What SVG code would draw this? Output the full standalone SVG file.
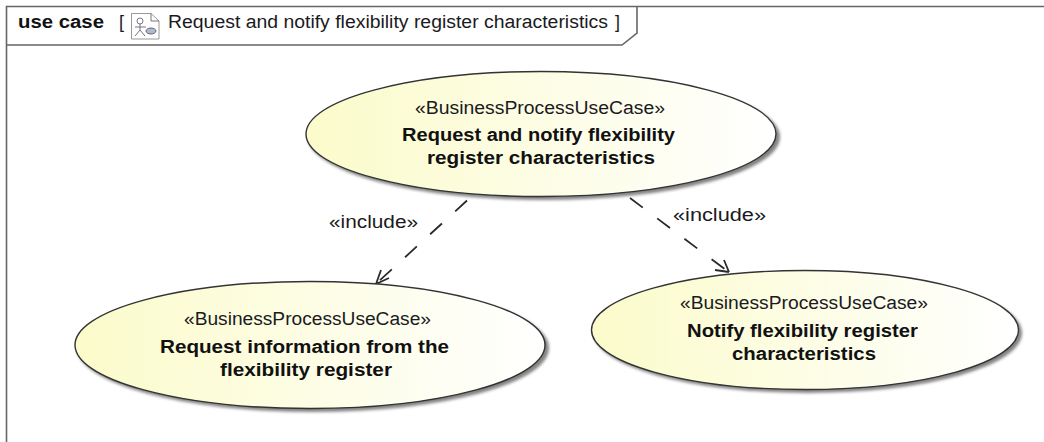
<svg xmlns="http://www.w3.org/2000/svg" width="1044" height="442" viewBox="0 0 1044 442">
<style>
text{font-family:"Liberation Sans",Arial,sans-serif;font-size:18px;fill:#1a1a22;text-anchor:middle}
.b{font-weight:bold;fill:#111}
.s{fill:#6e6e6e;opacity:.85;filter:url(#blur)}
.e{fill:url(#g);stroke:#333;stroke-width:1.4}
.c{fill:none;stroke:#2a2a2a;stroke-width:1.8}
.f{fill:none;stroke:#666;stroke-width:1.6}
.i{fill:none;stroke:#667;stroke-width:.9}
</style>
<defs>
<linearGradient id="g" x1="0" y1="0" x2="1" y2="0"><stop offset="0" stop-color="#fbfbcb"/><stop offset="1" stop-color="#fff"/></linearGradient>
<filter id="blur" x="-5%" y="-10%" width="110%" height="120%"><feGaussianBlur stdDeviation="1.5"/></filter>
</defs>
<rect width="1044" height="442" fill="#fff"/>
<g id="frame">
<path class="f" d="M1044 6.500H6.500V442"/>
<path class="f" d="M6.500 45H622L637 33V6.500"/>
<text x="61" y="28" class="b" textLength="86" lengthAdjust="spacingAndGlyphs">use case</text>
<text x="121.500" y="28">[</text>
<g id="frame-icon">
<path d="M131.500 13.500H151L159 21V39H131.500Z" fill="#fff" stroke="#999"/>
<path d="M151 13.500V21H159" class="i"/>
<circle cx="140" cy="21" r="3" class="i"/>
<path d="M140 24V30M135 27H146M140 30L135 36M140 30L145 36" class="i"/>
<ellipse cx="151" cy="31" rx="5" ry="3" fill="#abc" stroke="#667"/>
</g>
<text x="388" y="28" textLength="440" lengthAdjust="spacingAndGlyphs">Request and notify flexibility register characteristics</text>
<text x="617.500" y="28">]</text>
</g>
<g id="connectors">
<path class="c" stroke-dasharray="16 18" d="M467 200.500L378 282"/>
<path class="c" d="M376 284L389 278M376 284L381 270"/>
<path class="c" stroke-dasharray="16 18" d="M630 198L726 270"/>
<path class="c" d="M729 272L715 270M729 272L724 260"/>
<text x="373.500" y="228" textLength="89" lengthAdjust="spacingAndGlyphs">«include»</text>
<text x="719.500" y="221" textLength="93" lengthAdjust="spacingAndGlyphs">«include»</text>
</g>
<g id="top-usecase">
<ellipse class="s" cx="544" cy="137" rx="236" ry="63"/>
<ellipse class="e" cx="541" cy="134" rx="235" ry="62.500"/>
<text x="540" y="114" textLength="250" lengthAdjust="spacingAndGlyphs">«BusinessProcessUseCase»</text>
<text x="538.500" y="141" class="b" textLength="273" lengthAdjust="spacingAndGlyphs">Request and notify flexibility</text>
<text x="541" y="164" class="b" textLength="228" lengthAdjust="spacingAndGlyphs">register characteristics</text>
</g>
<g id="left-usecase">
<ellipse class="s" cx="313" cy="348" rx="236" ry="64"/>
<ellipse class="e" cx="310" cy="345" rx="235" ry="63.500"/>
<text x="307.500" y="325" textLength="247" lengthAdjust="spacingAndGlyphs">«BusinessProcessUseCase»</text>
<text x="304.500" y="353" class="b" textLength="289" lengthAdjust="spacingAndGlyphs">Request information from the</text>
<text x="306" y="376" class="b" textLength="172" lengthAdjust="spacingAndGlyphs">flexibility register</text>
</g>
<g id="right-usecase">
<ellipse class="s" cx="808" cy="333" rx="214" ry="60"/>
<ellipse class="e" cx="805" cy="330" rx="213.500" ry="59.500"/>
<text x="804" y="309" textLength="248" lengthAdjust="spacingAndGlyphs">«BusinessProcessUseCase»</text>
<text x="802.500" y="337" class="b" textLength="231" lengthAdjust="spacingAndGlyphs">Notify flexibility register</text>
<text x="804" y="360" class="b" textLength="144" lengthAdjust="spacingAndGlyphs">characteristics</text>
</g>
</svg>
